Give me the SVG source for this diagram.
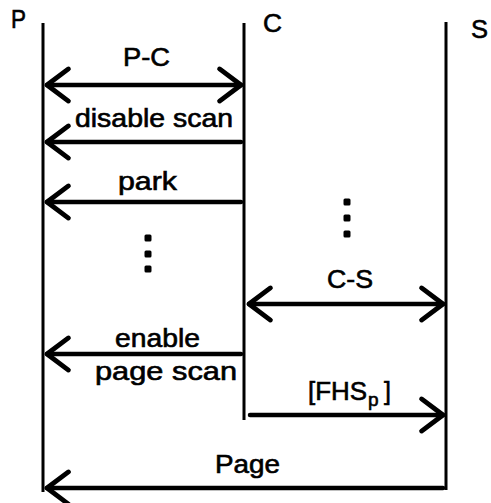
<svg xmlns="http://www.w3.org/2000/svg" width="491" height="503" viewBox="0 0 491 503">
  <style>
    .life { stroke: #000; stroke-width: 3; fill: none; }
    .msg { stroke: #000; stroke-width: 4.5; fill: none; stroke-linecap: round; }
    .lbl { font-family: "Liberation Sans", Arial, sans-serif; font-size: 25px; fill: #000; stroke: #000; stroke-width: 0.6; }
    .dot { fill: #000; }
  </style>
  <defs>
    <marker id="head" markerUnits="userSpaceOnUse" markerWidth="30" markerHeight="40" viewBox="-24 -18 28 36" refX="0" refY="0" orient="auto-start-reverse">
      <path d="M-20,-15 L0,0 L-20,15" fill="none" stroke="#000" stroke-width="4.5" stroke-linecap="round" stroke-linejoin="round"/>
    </marker>
  </defs>
  <rect width="491" height="503" fill="#fff"/>

  <!-- lifelines -->
  <g id="P">
    <line class="life" x1="43" y1="23" x2="43" y2="492"/>
    <text class="lbl" x="11" y="28" font-size="27" textLength="15" lengthAdjust="spacingAndGlyphs">P</text>
  </g>
  <g id="C">
    <line class="life" x1="244" y1="23" x2="244" y2="420"/>
    <text class="lbl" x="263" y="32" font-size="27" textLength="19" lengthAdjust="spacingAndGlyphs">C</text>
  </g>
  <g id="S">
    <line class="life" x1="446" y1="22" x2="446" y2="490"/>
    <text class="lbl" x="471" y="38" font-size="27" textLength="17" lengthAdjust="spacingAndGlyphs">S</text>
  </g>

  <!-- messages -->
  <g id="connectors">
    <line class="msg" x1="47" y1="85" x2="241" y2="85" marker-start="url(#head)" marker-end="url(#head)"/>
    <line class="msg" x1="241" y1="142" x2="47" y2="142" marker-end="url(#head)"/>
    <line class="msg" x1="241" y1="202" x2="47" y2="202" marker-end="url(#head)"/>
    <line class="msg" x1="249" y1="304" x2="443" y2="304" marker-start="url(#head)" marker-end="url(#head)"/>
    <line class="msg" x1="241" y1="354" x2="47" y2="354" marker-end="url(#head)"/>
    <line class="msg" x1="250" y1="415" x2="443" y2="415" marker-end="url(#head)"/>
    <line class="msg" x1="443" y1="488" x2="47" y2="488" marker-end="url(#head)"/>
  </g>

  <!-- message labels -->
  <g id="labels">
    <text class="lbl" x="123" y="66" textLength="47" lengthAdjust="spacingAndGlyphs">P-C</text>
    <text class="lbl" x="75" y="127" textLength="158" lengthAdjust="spacingAndGlyphs">disable scan</text>
    <text class="lbl" x="118" y="190" textLength="59" lengthAdjust="spacingAndGlyphs">park</text>
    <text class="lbl" x="327" y="288" textLength="46" lengthAdjust="spacingAndGlyphs">C-S</text>
    <text class="lbl" x="115" y="347" textLength="85" lengthAdjust="spacingAndGlyphs">enable</text>
    <text class="lbl" x="95" y="380" textLength="142" lengthAdjust="spacingAndGlyphs">page scan</text>
    <text class="lbl" x="308" y="400"><tspan textLength="59" lengthAdjust="spacingAndGlyphs">[FHS</tspan><tspan x="368" dy="6" font-size="19">p</tspan><tspan x="384" dy="-6">]</tspan></text>
    <text class="lbl" x="215" y="473" textLength="65" lengthAdjust="spacingAndGlyphs">Page</text>
  </g>

  <!-- ellipsis dots -->
  <g id="dots-left">
    <rect class="dot" x="144.5" y="234.5" width="7" height="7" rx="1.5"/>
    <rect class="dot" x="144.5" y="250.5" width="7" height="7" rx="1.5"/>
    <rect class="dot" x="144.5" y="265.5" width="7" height="7" rx="1.5"/>
  </g>
  <g id="dots-right">
    <rect class="dot" x="343.5" y="198.5" width="7" height="7" rx="1.5"/>
    <rect class="dot" x="343.5" y="214.5" width="7" height="7" rx="1.5"/>
    <rect class="dot" x="343.5" y="230.5" width="7" height="7" rx="1.5"/>
  </g>
</svg>
